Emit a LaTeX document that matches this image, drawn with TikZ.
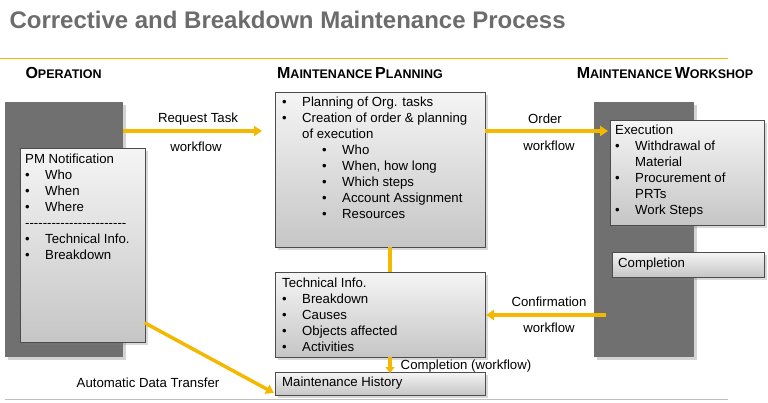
\documentclass[tikz,border=0pt]{standalone}
\usepackage{fontspec}
\setmainfont{Liberation Sans}
\usetikzlibrary{shadows,arrows.meta}
\definecolor{yel}{HTML}{F5B800}
\definecolor{col}{HTML}{707070}
\newcommand{\bl}[1]{\makebox[20pt][l]{•}#1}
\newcommand{\bll}[1]{\hspace*{40pt}\makebox[20pt][l]{•}#1}
\newcommand{\hd}[2]{{\fontsize{16}{18}\selectfont\bfseries #1{\fontsize{12.5}{14}\selectfont #2}}}
\begin{document}
\begin{tikzpicture}[x=1pt,y=-1pt,
  column/.style={fill=col,drop shadow={opacity=0.35,shadow xshift=3pt,shadow yshift=-3pt}},
  card/.style={draw=black!70,top color=gray!8,bottom color=gray!45,drop shadow={opacity=0.3,shadow xshift=3pt,shadow yshift=-3pt}},
  txt/.style={font=\fontsize{13.2}{16}\selectfont,align=left,anchor=north west,inner sep=0pt},
  lab/.style={font=\fontsize{13.2}{15}\selectfont,inner sep=0pt},
  arr/.style={yel,line width=3.5pt,-{Triangle[length=8pt,width=10pt]}}]
\useasboundingbox (0,0) rectangle (768,402);
\node[anchor=west,text=gray!85!black,font=\fontsize{24}{26}\selectfont\bfseries] (title) at (6,20) {Corrective and Breakdown Maintenance Process};
\draw[yel,line width=0.8pt] (0,58) -- (728,58);
\draw[gray!50,line width=0.8pt] (5,399) -- (728,399);
\node[anchor=west] (h1) at (22,73) {\hd{O}{PERATION}};
\node (h2) at (360,73) {\hd{M}{AINTENANCE} \hd{P}{LANNING}};
\node (h3) at (665,73) {\hd{M}{AINTENANCE} \hd{W}{ORKSHOP}};
% columns
\path[column] (5,102) rectangle (123,357);
\path[column] (594,102) rectangle (694,357);
% boxes
\draw[card] (20,148) rectangle (145,342);
\coordinate (pmr) at (145,323);
\node[txt] (pm) at (25,154) {PM Notification\\ \bl{Who}\\ \bl{When}\\ \bl{Where}\\ -{}-{}-{}-{}-{}-{}-{}-{}-{}-{}-{}-{}-{}-{}-{}-{}-{}-{}-{}-{}-{}-{}-\\ \bl{Technical Info.}\\ \bl{Breakdown}};
\draw[card] (275,92) rectangle (485,247);
\node[txt] (plan) at (282,97) {\bl{Planning of Org. tasks}\\ \bl{Creation of order \& planning}\\ \hspace*{20pt}of execution\\ \bll{Who}\\ \bll{When, how long}\\ \bll{Which steps}\\ \bll{Account Assignment}\\ \bll{Resources}};
\draw[card] (275,272) rectangle (485,357);
\node[txt] (tech) at (282,278) {Technical Info.\\ \bl{Breakdown}\\ \bl{Causes}\\ \bl{Objects affected}\\ \bl{Activities}};
\draw[card] (275,372) rectangle (485,395);
\node[txt] (hist) at (282,377) {Maintenance History};
\draw[card] (610,120) rectangle (764,225);
\node[txt] (exe) at (615,125) {Execution\\ \bl{Withdrawal of}\\ \hspace*{20pt}Material\\ \bl{Procurement of}\\ \hspace*{20pt}PRTs\\ \bl{Work Steps}};
\draw[card] (612,252) rectangle (764,277);
\node[txt] (comp) at (618,258) {Completion};
% arrows
\coordinate (a1s) at (123,131); \coordinate (a1e) at (262,131);
\draw[arr] (a1s) -- (a1e);
\coordinate (a2s) at (485,131); \coordinate (a2e) at (608,131);
\draw[arr] (a2s) -- (a2e);
\coordinate (a3s) at (606,315); \coordinate (a3e) at (486,315);
\draw[arr] (a3s) -- (a3e);
\coordinate (v1) at (390,247); \coordinate (v2) at (390,272);
\draw[yel,line width=3.5pt] (v1) -- (v2);
\coordinate (v3) at (390,357); \coordinate (v4) at (390,373);
\draw[arr,-{Triangle[length=6pt,width=9pt]}] (v3) -- (v4);
\coordinate (ae) at (274,393);
\draw[arr] (pmr) -- (ae);
% labels
\node[lab] (l1) at (198,119) {Request Task};
\node[lab] (l2) at (196,147) {workflow};
\node[lab] (l3) at (545,119) {Order};
\node[lab] (l4) at (549,146) {workflow};
\node[lab] (l5) at (549,302) {Confirmation};
\node[lab] (l6) at (549,328) {workflow};
\node[lab] (l7) at (466,366) {Completion (workflow)};
\node[lab] (l8) at (148,383) {Automatic Data Transfer};
\end{tikzpicture}
\end{document}
